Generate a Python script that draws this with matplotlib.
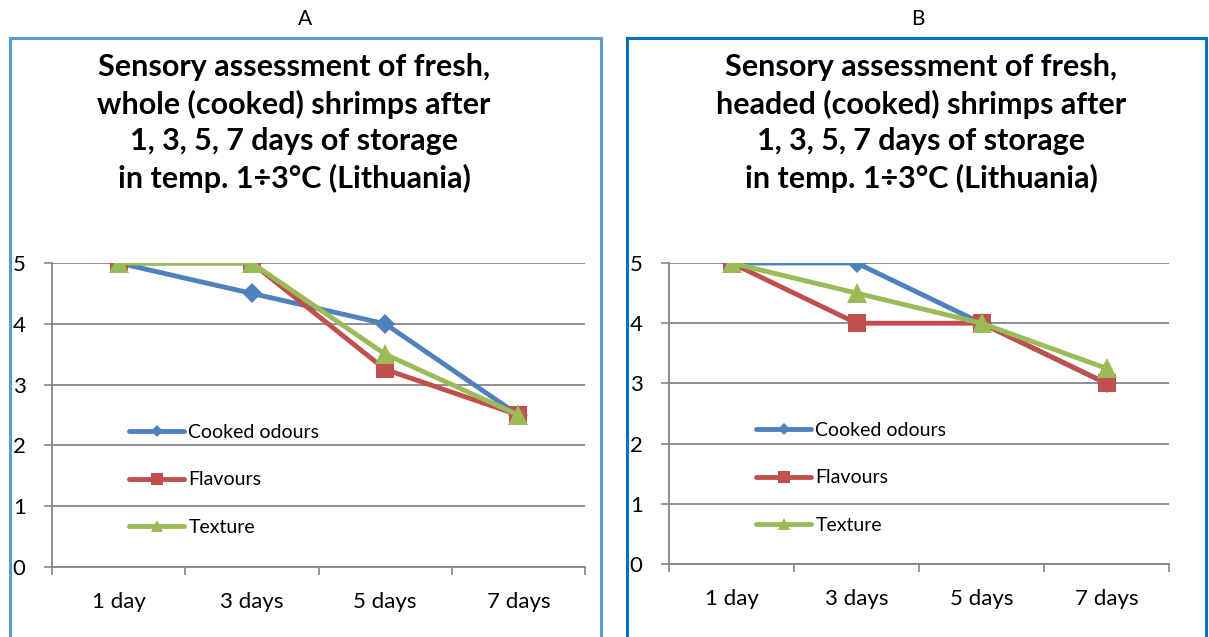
import matplotlib
matplotlib.use("Agg")
import matplotlib.pyplot as plt
from matplotlib.patches import Rectangle
from matplotlib.lines import Line2D

categories = ["1 day", "3 days", "5 days", "7 days"]
series_names = ["Cooked odours", "Flavours", "Texture"]

a_cooked = [5, 4.5, 4, 2.5]
a_flavours = [5, 5, 3.25, 2.5]
a_texture = [5, 5, 3.5, 2.5]

b_cooked = [5, 5, 4, 3]
b_flavours = [5, 4, 4, 3]
b_texture = [5, 4.5, 4, 3.25]

yticks = [0, 1, 2, 3, 4, 5]

title_a = "Sensory assessment of fresh,\nwhole (cooked) shrimps after\n1, 3, 5, 7 days of storage\nin temp. 1÷3°C (Lithuania)"
title_b = "Sensory assessment of fresh,\nheaded (cooked) shrimps after\n1, 3, 5, 7 days of storage\nin temp. 1÷3°C (Lithuania)"

colors = ["#4F81BD", "#C0504D", "#9BBB59"]
markers = ["D", "s", "^"]
msizes = [10.5, 13, 14]
leg_msizes = [6, 8.5, 8]

plt.rcParams['font.family'] = ['Lato', 'DejaVu Sans']

W, H = 1209, 637
fig = plt.figure(figsize=(W / 100, H / 100), dpi=100)


def px_axes(x0, y0, x1, y1):
    return fig.add_axes([x0 / W, 1 - y1 / H, (x1 - x0) / W, (y1 - y0) / H])


def frame(x0, y0, x1, color):
    fig.patches.append(Rectangle((x0 / W, -0.05), (x1 - x0) / W, 1 - y0 / H + 0.05,
                                 transform=fig.transFigure, fill=False,
                                 edgecolor=color, linewidth=2.2))


def panel(box, series, title, tx, frame_box, fcolor, letter, lx, leg_xy):
    frame(*frame_box, fcolor)
    fig.text(lx / W, 1 - 19 / H, letter, ha="center", va="center", fontsize=15)
    fig.text(tx / W, 1 - 123 / H, title, ha="center", va="center", fontsize=22,
             fontweight="bold", linespacing=1.36)
    ax = px_axes(*box)
    x = list(range(len(categories)))
    for vals, name, c, m, ms in zip(series, series_names, colors, markers, msizes):
        ax.plot(x, vals, color=c, linewidth=3.5, marker=m, markersize=ms,
                markeredgewidth=0, label=name, solid_joinstyle="round")
    ax.set_xlim(-0.5, len(categories) - 0.5)
    ax.set_ylim(0, 5)
    ax.set_yticks(yticks)
    ax.set_xticks([i - 0.5 for i in range(len(categories) + 1)])
    ax.set_xticklabels([])
    ax.set_xticks(x, minor=True)
    ax.set_xticklabels(categories, minor=True, fontsize=16)
    ax.tick_params(axis="x", which="minor", length=0, pad=18)
    ax.tick_params(axis="x", which="major", length=6, color="#868686", width=1.2)
    ax.tick_params(axis="y", length=6, color="#868686", width=1.2, pad=13, labelsize=16)
    ax.grid(axis="y", color="#868686", linewidth=1.3)
    ax.set_axisbelow(True)
    for s in ["top", "right"]:
        ax.spines[s].set_visible(False)
    for s in ["left", "bottom"]:
        ax.spines[s].set_color("#868686")
        ax.spines[s].set_linewidth(1.3)
    handles = [Line2D([], [], color=c, linewidth=3.5, marker=m, markersize=ms,
                      markeredgewidth=0, solid_capstyle="round")
               for c, m, ms in zip(colors, markers, leg_msizes)]
    ax.legend(handles, series_names, loc="upper left",
              bbox_to_anchor=(leg_xy[0] / W, 1 - leg_xy[1] / H),
              bbox_transform=fig.transFigure,
              frameon=False, fontsize=14, labelspacing=1.56, handlelength=2.85,
              handletextpad=0.2, borderpad=0, borderaxespad=0)
    return ax


panel((52, 263, 585, 567), [a_cooked, a_flavours, a_texture], title_a, 294,
      (10, 38, 601), "#5B9BD5", "A", 305, (129, 424))
panel((669, 263, 1169, 564), [b_cooked, b_flavours, b_texture], title_b, 921,
      (627, 38, 1206), "#0070C0", "B", 918, (756, 422))

fig.savefig("out.png", dpi=100)
